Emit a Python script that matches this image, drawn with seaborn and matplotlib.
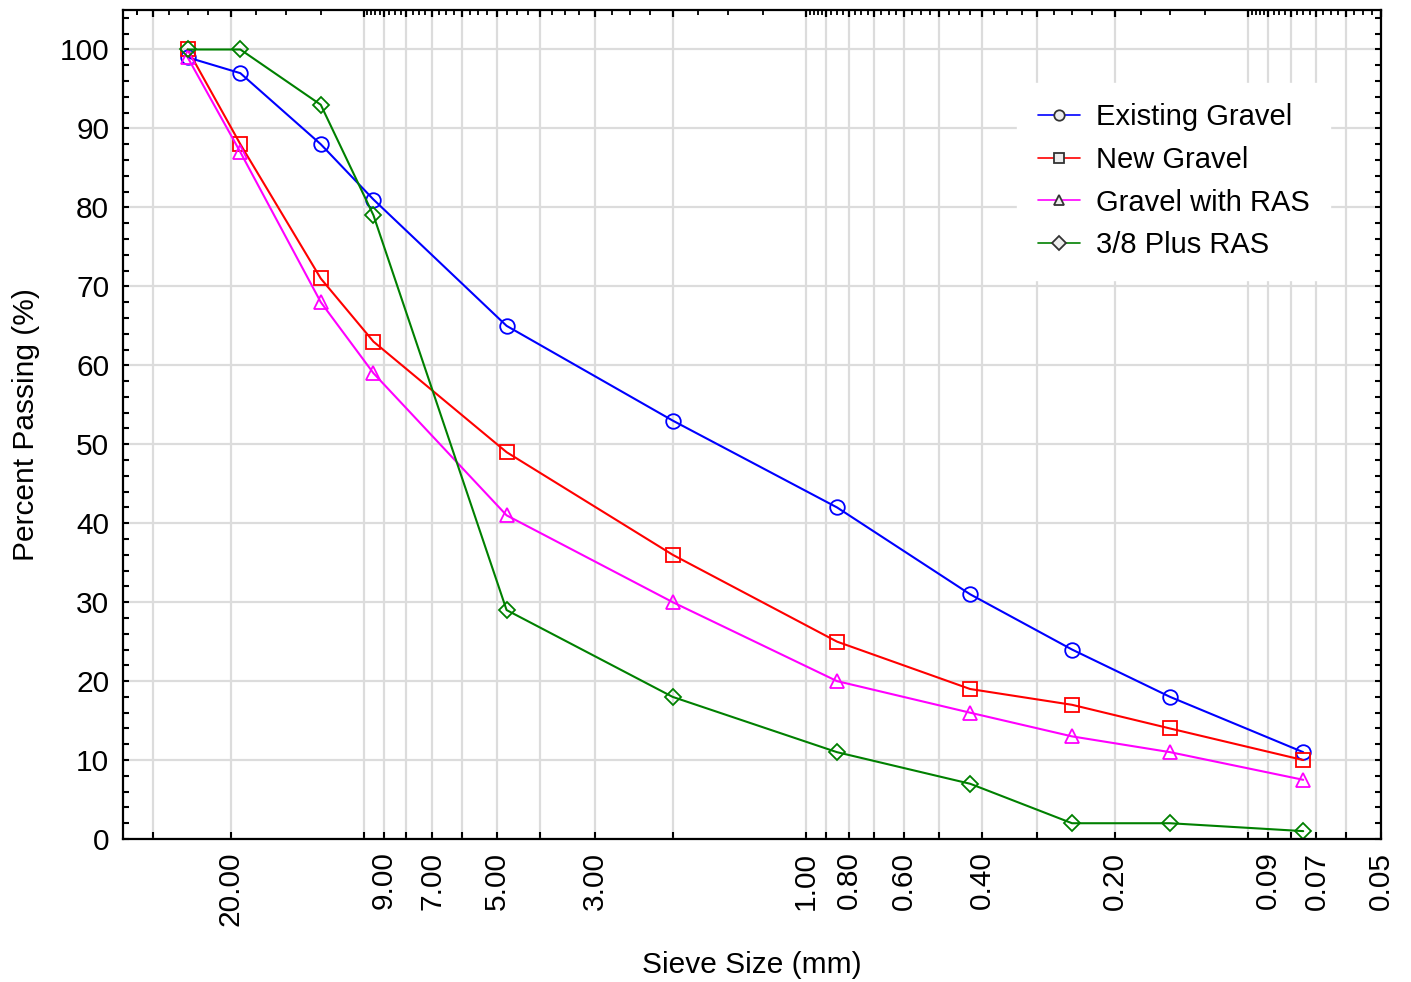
import numpy as np
import pandas as pd
import matplotlib
matplotlib.use("Agg")
import matplotlib.pyplot as plt
from matplotlib.ticker import FixedLocator, NullFormatter, FormatStrFormatter, MultipleLocator
from matplotlib.lines import Line2D
import seaborn as sns

# sieve sizes (mm) and percent passing for each mix
sieve_mm = [25, 19, 12.5, 9.5, 4.75, 2.0, 0.85, 0.425, 0.25, 0.15, 0.075]
existing_gravel = [99, 97, 88, 81, 65, 53, 42, 31, 24, 18, 11]
new_gravel = [100, 88, 71, 63, 49, 36, 25, 19, 17, 14, 10]
gravel_ras = [99, 87, 68, 59, 41, 30, 20, 16, 13, 11, 7.5]
plus_ras = [100, 100, 93, 79, 29, 18, 11, 7, 2, 2, 1]

series_names = ["Existing Gravel", "New Gravel", "Gravel with RAS", "3/8 Plus RAS"]
x_tick_labels = [20, 9, 7, 5, 3, 1, 0.8, 0.6, 0.4, 0.2, 0.09, 0.07, 0.05]

df = pd.concat([
    pd.DataFrame({"sieve": sieve_mm, "passing": vals, "series": name})
    for name, vals in zip(series_names, [existing_gravel, new_gravel, gravel_ras, plus_ras])
], ignore_index=True)

sns.set_theme(style="white")
plt.rcParams["font.family"] = ["Liberation Sans", "DejaVu Sans"]
plt.rcParams["text.color"] = "black"
plt.rcParams["axes.labelcolor"] = "black"
plt.rcParams["xtick.color"] = "black"
plt.rcParams["ytick.color"] = "black"

FS = 21.5

colors = {"Existing Gravel": "#0000ff", "New Gravel": "#ff0000",
          "Gravel with RAS": "#ff00ff", "3/8 Plus RAS": "#008000"}
markers = {"Existing Gravel": ("o", 10.5), "New Gravel": ("s", 10),
           "Gravel with RAS": ("^", 9.5), "3/8 Plus RAS": ("D", 8.5)}

fig = plt.figure(figsize=(14.11, 9.82), dpi=100)
ax = fig.add_axes([0.0872, 0.1456, 0.8916, 0.8442])
ax.set_xscale("log")

for name in series_names:
    sub = df[df["series"] == name]
    m, ms = markers[name]
    sns.lineplot(data=sub, x="sieve", y="passing", ax=ax, color=colors[name],
                 marker=m, markersize=ms, mfc="none", mec=colors[name], mew=1.3,
                 lw=1.5, sort=False, estimator=None, legend=False)

ax.set_xlim(35, 0.05)
ax.set_ylim(0, 105)

# bottom axis: labelled ticks + log minor ticks
ax.xaxis.set_major_locator(FixedLocator(x_tick_labels))
ax.xaxis.set_major_formatter(FormatStrFormatter("%.2f"))
ax.xaxis.set_minor_locator(matplotlib.ticker.LogLocator(base=10, subs=np.arange(1, 10), numticks=100))
ax.xaxis.set_minor_formatter(NullFormatter())
ax.yaxis.set_major_locator(MultipleLocator(10))
ax.yaxis.set_minor_locator(MultipleLocator(2))

ax.grid(True, which="both", axis="x", color="#dcdcdc", lw=1.6)
ax.grid(True, which="major", axis="y", color="#dcdcdc", lw=1.6)
ax.set_axisbelow(True)

ax.tick_params(axis="x", which="both", direction="in", length=5, width=1.5,
               top=False, bottom=True, labelsize=FS, pad=9, labelrotation=90)
ax.tick_params(axis="y", which="both", direction="in", length=4.5, width=1.5,
               left=True, right=True, labelsize=FS, pad=10)
for sp in ax.spines.values():
    sp.set_color("black")
    sp.set_linewidth(1.6)

# top axis: finer subdivision ticks
grid_vals = sorted(d * 10.0 ** k for k in (-2, -1, 0, 1) for d in range(1, 10))
top_major = [v for v in grid_vals if 0.05 <= v <= 35]
top_minor = []
for a, b in zip(grid_vals[:-1], grid_vals[1:]):
    n = 5 if abs(np.log10(b) - round(np.log10(b))) < 1e-9 else 4
    for i in range(1, n):
        v = a + (b - a) * i / n
        if 0.05 < v < 35:
            top_minor.append(v)
for v in (32.5, 35):
    top_minor.append(v)

ax2 = ax.twiny()
ax2.set_xscale("log")
ax2.set_xlim(ax.get_xlim())
ax2.xaxis.set_major_locator(FixedLocator(top_major))
ax2.xaxis.set_minor_locator(FixedLocator(top_minor))
ax2.xaxis.set_major_formatter(NullFormatter())
ax2.xaxis.set_minor_formatter(NullFormatter())
ax2.tick_params(axis="x", which="major", direction="in", length=5, width=1.6, top=True, bottom=False)
ax2.tick_params(axis="x", which="minor", direction="in", length=3.5, width=1.3, top=True, bottom=False)
ax2.grid(False)
for sp in ax2.spines.values():
    sp.set_visible(False)

ax.set_xlabel("Sieve Size (mm)", fontsize=FS, labelpad=18)
ax.set_ylabel("Percent Passing (%)", fontsize=FS, labelpad=14)

LFS = 21
handles = [Line2D([], [], color=colors[n], lw=1.2, marker=markers[n][0], markersize=7.5,
                  mfc="#eeeeee", mec="#333333", mew=1.3) for n in series_names]
leg = ax.legend(handles, series_names, loc="upper right", fontsize=LFS,
                bbox_to_anchor=(1330 / 1411, 1 - 83 / 982), bbox_transform=fig.transFigure,
                borderaxespad=0, frameon=True, fancybox=False, framealpha=1,
                handlelength=1.45, handletextpad=0.55, labelspacing=0.5, borderpad=0.7)
leg.get_frame().set_edgecolor("white")
leg.get_frame().set_facecolor("white")
leg.set_zorder(5)

fig.savefig("out.png", dpi=100)
